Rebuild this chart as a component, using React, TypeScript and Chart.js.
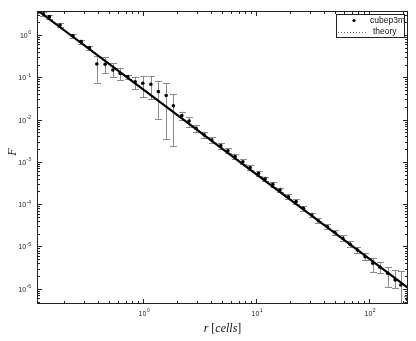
import { useEffect, useRef } from 'react';
import { Chart, registerables } from 'chart.js';

Chart.register(...registerables);

// ---- data ----
const radius = [0.118, 0.131, 0.148, 0.184, 0.239, 0.283, 0.335, 0.389, 0.461, 0.54, 0.626, 0.732, 0.85, 0.993, 1.17, 1.365, 1.6, 1.854, 2.2, 2.55, 2.94, 3.47, 4.05, 4.87, 5.62, 6.52, 7.63, 8.85, 10.5, 12.0, 14.06, 16.3, 19.3, 22.6, 26.2, 31.1, 35.6, 42.8, 50.0, 58.5, 67.9, 78.8, 92.2, 108, 125, 146, 170, 191, 217];
const flux = [3.6, 3.14, 2.71, 1.72, 0.96, 0.695, 0.5, 0.206, 0.203, 0.149, 0.124, 0.103, 0.0787, 0.0721, 0.0684, 0.0457, 0.037, 0.0213, 0.0124, 0.00927, 0.00622, 0.00432, 0.0033, 0.00242, 0.00184, 0.00133, 0.00101, 0.00073, 0.000537, 0.000394, 0.000295, 0.000217, 0.00015, 0.000115, 8.0e-5, 5.56e-5, 4.07e-5, 2.94e-5, 2.12e-5, 1.56e-5, 1.13e-5, 8.26e-6, 5.74e-6, 4.0e-6, 3.22e-6, 2.32e-6, 1.61e-6, 1.23e-6, 5.7e-7];
const fluxLow = [3.3, 2.85, 2.45, 1.55, 0.87, 0.62, 0.44, 0.0745, 0.126, 0.1, 0.086, 0.093, 0.0529, 0.0337, 0.0307, 0.0103, 0.00348, 0.00238, 0.00977, 0.0068, 0.0051, 0.0036, 0.0028, 0.00205, 0.00158, 0.00115, 0.00088, 0.00064, 0.00047, 0.000345, 0.00026, 0.00019, 0.000131, 0.000101, 7.0e-5, 4.85e-5, 3.55e-5, 2.55e-5, 1.83e-5, 1.34e-5, 9.6e-6, 7.0e-6, 4.8e-6, 2.45e-6, 2.33e-6, 1.12e-6, 1.03e-6, 1.0e-7, 4.8e-7];
const fluxHigh = [3.9, 3.45, 2.95, 1.9, 1.06, 0.78, 0.56, 0.319, 0.3, 0.214, 0.169, 0.114, 0.103, 0.109, 0.109, 0.083, 0.0724, 0.0392, 0.0154, 0.0115, 0.0075, 0.0052, 0.0039, 0.00285, 0.00214, 0.00154, 0.00116, 0.00083, 0.00061, 0.00045, 0.000335, 0.000248, 0.000171, 0.000131, 9.1e-5, 6.35e-5, 4.65e-5, 3.38e-5, 2.45e-5, 1.82e-5, 1.33e-5, 9.8e-6, 6.9e-6, 5.43e-6, 4.37e-6, 3.28e-6, 2.78e-6, 2.63e-6, 6.8e-7];
const theoryR = [0.115, 1, 10, 100, 221];
const theoryF = [3.9, 0.0515, 5.15e-4, 5.15e-6, 1.05e-6];
const seriesLabels = ['cubep3m', 'theory'];
const xLabelExps = [0, 1, 2];
const yLabelExps = [0, -1, -2, -3, -4, -5, -6];
const xRange = [0.115, 221];
const yRange = [4.37e-7, 3.69];
const xTitle = ['r', ' [', 'cells', ']'];
const yTitle = 'F';

const AXIS_FONT = '"Liberation Sans", Arial, sans-serif';
const SERIF = '"Liberation Serif", "DejaVu Serif", serif';

function decadeTicks(min: number, max: number) {
  const out: { v: number; major: boolean }[] = [];
  for (let e = Math.floor(Math.log10(min)); e <= Math.ceil(Math.log10(max)); e++) {
    for (let d = 1; d <= 9; d++) {
      const v = d * Math.pow(10, e);
      if (v >= min * 0.9999 && v <= max * 1.0001) out.push({ v, major: d === 1 });
    }
  }
  return out;
}

function drawPow(ctx: CanvasRenderingContext2D, exp: number, x: number, y: number, align: 'right' | 'center') {
  const base = '10';
  const ex = String(exp);
  ctx.font = `7px ${AXIS_FONT}`;
  const w1 = ctx.measureText(base).width;
  ctx.font = `5px ${AXIS_FONT}`;
  const w2 = ctx.measureText(ex).width;
  const total = w1 + w2 + 0.5;
  const x0 = align === 'right' ? x - total : x - total / 2;
  ctx.textAlign = 'left';
  ctx.textBaseline = 'middle';
  ctx.font = `7px ${AXIS_FONT}`;
  ctx.fillText(base, x0, y);
  ctx.font = `5px ${AXIS_FONT}`;
  ctx.fillText(ex, x0 + w1 + 0.5, y - 3);
}

const decoPlugin = {
  id: 'deco',
  beforeDatasetsDraw(chart: any) {
    const { ctx, chartArea: a, scales } = chart;
    const xs = scales.x, ys = scales.y;
    ctx.save();
    ctx.beginPath();
    ctx.rect(a.left, a.top, a.right - a.left, a.bottom - a.top);
    ctx.clip();
    ctx.strokeStyle = '#8a8a8a';
    ctx.lineWidth = 1;
    for (let i = 0; i < radius.length; i++) {
      const px = Math.round(xs.getPixelForValue(radius[i])) + 0.5;
      const y1 = ys.getPixelForValue(fluxLow[i]);
      const y2 = ys.getPixelForValue(fluxHigh[i]);
      ctx.beginPath();
      ctx.moveTo(px, y1);
      ctx.lineTo(px, y2);
      ctx.moveTo(px - 3.5, Math.round(y1) + 0.5);
      ctx.lineTo(px + 3.5, Math.round(y1) + 0.5);
      ctx.moveTo(px - 3.5, Math.round(y2) + 0.5);
      ctx.lineTo(px + 3.5, Math.round(y2) + 0.5);
      ctx.stroke();
    }
    ctx.restore();
  },
  afterDraw(chart: any) {
    const { ctx, chartArea: a, scales } = chart;
    const xs = scales.x, ys = scales.y;
    ctx.save();
    // frame
    ctx.strokeStyle = '#222';
    ctx.lineWidth = 1;
    ctx.strokeRect(a.left + 0.5, a.top + 0.5, a.right - a.left - 1, a.bottom - a.top - 1);
    // ticks
    ctx.beginPath();
    for (const t of decadeTicks(xRange[0], xRange[1])) {
      const px = Math.round(xs.getPixelForValue(t.v)) + 0.5;
      const len = t.major ? 5 : 3;
      ctx.moveTo(px, a.bottom);
      ctx.lineTo(px, a.bottom - len);
      ctx.moveTo(px, a.top);
      ctx.lineTo(px, a.top + len);
    }
    for (const t of decadeTicks(yRange[0], yRange[1])) {
      const py = Math.round(ys.getPixelForValue(t.v)) + 0.5;
      const len = t.major ? 5 : 3;
      ctx.moveTo(a.left, py);
      ctx.lineTo(a.left + len, py);
      ctx.moveTo(a.right, py);
      ctx.lineTo(a.right - len, py);
    }
    ctx.stroke();
    // tick labels
    ctx.fillStyle = '#222';
    for (const e of xLabelExps) {
      drawPow(ctx, e, xs.getPixelForValue(Math.pow(10, e)) + 1, a.bottom + 10, 'center');
    }
    for (const e of yLabelExps) {
      drawPow(ctx, e, a.left - 6, ys.getPixelForValue(Math.pow(10, e)) + 1, 'right');
    }
    // axis titles
    ctx.fillStyle = '#111';
    const italic = `italic 12px ${SERIF}`;
    const upright = `12px ${SERIF}`;
    const parts = xTitle.map((s, i) => ({ s, f: i % 2 === 0 ? italic : upright }));
    let tw = 0;
    for (const p of parts) { ctx.font = p.f; tw += ctx.measureText(p.s).width; }
    let cx = (a.left + a.right) / 2 - tw / 2;
    ctx.textAlign = 'left';
    ctx.textBaseline = 'middle';
    for (const p of parts) { ctx.font = p.f; ctx.fillText(p.s, cx, a.bottom + 25); cx += ctx.measureText(p.s).width; }
    ctx.save();
    ctx.translate(13, a.top + 141);
    ctx.rotate(-Math.PI / 2);
    ctx.font = italic;
    ctx.textAlign = 'center';
    ctx.fillText(yTitle, 0, 0);
    ctx.restore();
    // legend
    const lx = a.right - 72, ly = a.top + 3, lw = 69, lh = 24;
    ctx.fillStyle = '#fff';
    ctx.fillRect(lx, ly, lw, lh);
    ctx.strokeStyle = '#222';
    ctx.strokeRect(lx + 0.5, ly + 0.5, lw - 1, lh - 1);
    ctx.fillStyle = '#000';
    ctx.beginPath();
    ctx.arc(lx + 18, ly + 6.5, 1.6, 0, Math.PI * 2);
    ctx.fill();
    ctx.strokeStyle = '#666';
    ctx.setLineDash([1, 2]);
    ctx.beginPath();
    ctx.moveTo(lx + 2, ly + 18.5);
    ctx.lineTo(lx + 32, ly + 18.5);
    ctx.stroke();
    ctx.setLineDash([]);
    ctx.fillStyle = '#111';
    ctx.font = `8.5px ${AXIS_FONT}`;
    ctx.textAlign = 'left';
    ctx.textBaseline = 'middle';
    ctx.fillText(seriesLabels[0], lx + 34, ly + 6.5);
    ctx.fillText(seriesLabels[1], lx + 37, ly + 18);
    ctx.restore();
  },
};

export default function App() {
  const ref = useRef<HTMLCanvasElement | null>(null);
  useEffect(() => {
    if (!ref.current) return;
    const chart = new Chart(ref.current, {
      type: 'scatter',
      data: {
        datasets: [
          {
            type: 'line',
            label: seriesLabels[1],
            data: theoryR.map((r, i) => ({ x: r, y: theoryF[i] })),
            borderColor: '#000',
            borderWidth: 2.2,
            pointRadius: 0,
            fill: false,
            order: 0,
          } as any,
          {
            label: seriesLabels[0],
            data: radius.map((r, i) => ({ x: r, y: flux[i] })),
            backgroundColor: '#000',
            borderColor: '#000',
            pointRadius: 1.8,
            borderWidth: 0,
            order: 1,
          },
        ],
      },
      options: {
        animation: false,
        responsive: false,
        layout: { padding: { left: 37, right: 8, top: 11, bottom: 37 } },
        plugins: { legend: { display: false }, tooltip: { enabled: false } },
        scales: {
          x: { type: 'logarithmic', min: xRange[0], max: xRange[1], display: false },
          y: { type: 'logarithmic', min: yRange[0], max: yRange[1], display: false },
        },
      },
      plugins: [decoPlugin],
    });
    return () => chart.destroy();
  }, []);
  return (
    <div style={{ position: 'fixed', left: 0, top: 0, width: 416, height: 341, background: '#fff' }}>
      <canvas ref={ref} width={416} height={341} />
    </div>
  );
}
